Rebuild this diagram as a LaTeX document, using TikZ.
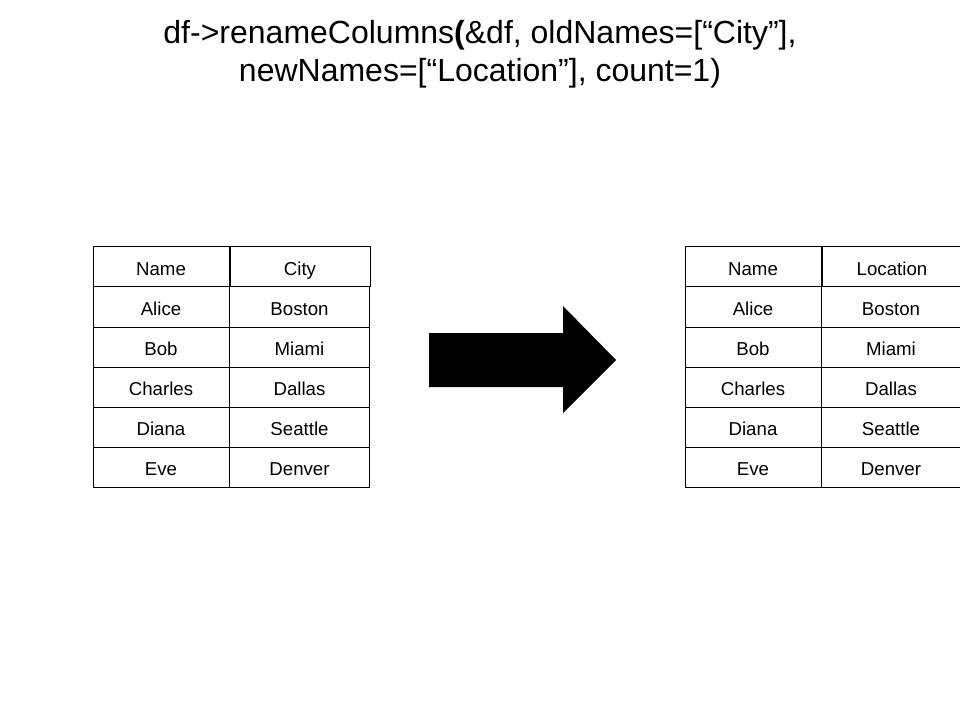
\documentclass[tikz,border=0pt]{standalone}
\usepackage{fontspec}
\setmainfont{Liberation Sans}

\begin{document}
\begin{tikzpicture}[x=0.75pt, y=-0.75pt,
	cell/.style={draw, line width=0.75pt, minimum height=30pt, inner sep=0pt,
		text height=13pt, text depth=0pt, font=\fontsize{14}{16}\selectfont},
	namecell/.style={cell, minimum width=102pt},
	valcell/.style={cell, minimum width=105pt}]
\def\top{267}
\def\rowh{40}
\useasboundingbox (0,0) rectangle (960,720);
\node[align=center, font=\fontsize{24}{28.5}\selectfont] (title) at (480,54)
	{df->renameColumns\textbf{(}\&df, oldNames=[“City”],\\
	newNames=[“Location”], count=1)};
% header row
\node[namecell] (lname0) at (161, \top) {Name};
\node[valcell] (lval0) at (300, \top-0.5) {City};
\node[namecell] (rname0) at (753, \top) {Name};
\node[valcell] (rval0) at (892, \top-0.5) {Location};
% data rows
\foreach \n/\c [count=\i] in {Alice/Boston, Bob/Miami, Charles/Dallas,
		Diana/Seattle, Eve/Denver} {
	\node[namecell] (lname\i) at (161, {\top+\rowh*\i}) {\n};
	\node[valcell] (lval\i) at (299.5, {\top+\rowh*\i}) {\c};
	\node[namecell] (rname\i) at (753, {\top+\rowh*\i}) {\n};
	\node[valcell] (rval\i) at (891, {\top+\rowh*\i}) {\c};
}
% block arrow
\fill (429,333) -- (563,333) -- (563,306) -- (616,360)
	-- (563,413) -- (563,387) -- (429,387) -- cycle;
\end{tikzpicture}
\end{document}
